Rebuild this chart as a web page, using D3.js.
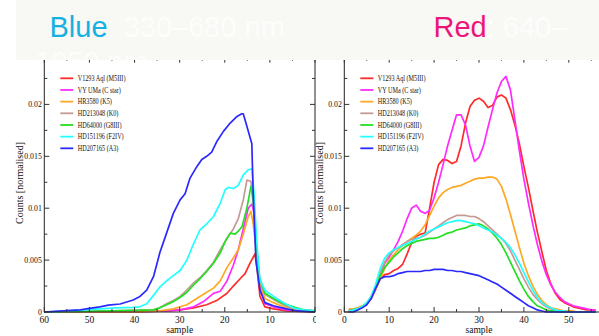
<!DOCTYPE html>
<html>
<head>
<meta charset="utf-8">
<script src="https://cdn.jsdelivr.net/npm/d3@7"></script>
<style>
  html, body { margin: 0; padding: 0; background: #ffffff; }
  svg { display: block; }
  .tick-label { font-family: "Liberation Serif", "Times New Roman", serif; fill: #111; }
</style>
</head>
<body>
<svg id="chart" width="599" height="336"></svg>
<script>
// ---- Data -------------------------------------------------------------
const starNames = [
  "V1293 Aql (M5III)", "VY UMa (C star)", "HR3580 (K5)", "HD213048 (K0)",
  "HD64000 (G8III)", "HD151196 (F2IV)", "HD207165 (A3)"
];
const starColors = ["#ff2a2a", "#ff2aff", "#ffa825", "#c49a94", "#22e022", "#22ffff", "#2a2aff"];

const xTicks = [0, 10, 20, 30, 40, 50, 60];
const yTicks = [0, 0.005, 0.01, 0.015, 0.02];
const yTickLabels = ["0", "0.005", "0.01", "0.015", "0.02"];

// Blue photometer, [sample, counts]
const blueM5III = [[60,0],[40,0],[32.9,0.0001],[29.9,0.0002],[26.9,0.0004],[24,0.0007],[21.8,0.0011],[19.5,0.0018],[18.1,0.0025],[16.6,0.0032],[15.5,0.0037],[14.4,0.0047],[13.3,0.0056],[12.8,0.0040],[12.2,0.0015],[11.1,0.0005],[9.2,0.0003],[6.3,0.0001],[0,0]];
const blueCstar = [[60,0],[40,0],[32.9,0.0001],[29.9,0.0002],[26.9,0.0005],[24.7,0.0010],[22.5,0.0018],[21,0.0020],[19.5,0.0030],[18.1,0.0045],[17,0.0060],[15.9,0.0080],[14.8,0.0100],[14,0.0104],[13.5,0.0095],[12.9,0.0060],[12.2,0.0025],[11.1,0.0008],[9.2,0.0005],[6.3,0.0002],[0,0]];
const blueK5 = [[60,0],[40,0],[34.4,0.0001],[31.4,0.0003],[28.4,0.0007],[25.5,0.0015],[24,0.0019],[22.5,0.0023],[21,0.0030],[19.5,0.0043],[18.1,0.0052],[17,0.0060],[15.9,0.0075],[14.8,0.0092],[14.2,0.0097],[13.7,0.0085],[12.9,0.0055],[12.2,0.0028],[11.1,0.0013],[9.2,0.0009],[7,0.0005],[4.8,0.0003],[0,0]];
const blueK0 = [[60,0],[45,0.0001],[35.8,0.0002],[34.4,0.0004],[32.9,0.0008],[31.4,0.0011],[29.9,0.0015],[28.4,0.0021],[26.9,0.0028],[25.5,0.0033],[24,0.0040],[22.5,0.0048],[21,0.0060],[19.5,0.0071],[18.1,0.0080],[17,0.0090],[15.9,0.0108],[15.1,0.0127],[14.2,0.0126],[13.5,0.0095],[12.9,0.0060],[12.2,0.0030],[11.1,0.0017],[9.2,0.0012],[7,0.0007],[4.8,0.0003],[0,0.0001]];
const blueG8III = [[60,0],[45,0.0001],[35.8,0.0002],[34.4,0.0004],[32.9,0.0007],[31.4,0.0010],[29.9,0.0014],[28.4,0.0019],[26.9,0.0026],[25.5,0.0032],[24,0.0039],[22.5,0.0047],[21,0.0057],[19.9,0.0068],[18.8,0.0076],[17.7,0.0075],[17,0.0078],[16.2,0.0082],[15.1,0.0100],[14.2,0.0121],[13.7,0.0110],[13.1,0.0070],[12.4,0.0035],[11.1,0.0018],[9.2,0.0013],[7,0.0008],[4.8,0.0005],[2.6,0.0002],[0,0.0001]];
const blueF2IV = [[60,0],[55,0.0001],[51.4,0.0002],[47.7,0.0003],[44,0.0004],[40.3,0.00045],[38.8,0.0005],[37.3,0.0008],[35.8,0.0016],[34.4,0.0024],[32.9,0.0030],[31.4,0.0035],[29.9,0.0040],[28.4,0.0050],[26.9,0.0066],[25.5,0.0079],[24,0.0085],[22.5,0.0092],[21,0.0105],[19.9,0.0118],[19.2,0.0120],[18.1,0.0119],[17,0.0122],[15.9,0.0132],[14.8,0.0137],[14,0.0138],[13.5,0.0114],[12.9,0.0066],[12.2,0.0031],[11.1,0.0021],[9.2,0.0015],[7,0.0009],[4.8,0.0004],[2.6,0.0002],[0,0.0001]];
const blueA3 = [[60,0],[55,0.00013],[52,0.0002],[50,0.00035],[47.7,0.0005],[45.8,0.00067],[43.2,0.00077],[40.3,0.00116],[38.8,0.0015],[37.3,0.0021],[35.8,0.0034],[34.4,0.0057],[32.9,0.0076],[31.4,0.0095],[29.9,0.0108],[28.8,0.0114],[27.7,0.0129],[26.2,0.0140],[25.1,0.0147],[24,0.0150],[22.9,0.0154],[21.8,0.0164],[20.3,0.0174],[18.8,0.0182],[17.4,0.0188],[16.2,0.0191],[15.9,0.0191],[15.1,0.0179],[14,0.0162],[13.7,0.0114],[13.1,0.0050],[12.2,0.0021],[11.1,0.0009],[9.2,0.0006],[6.3,0.0003],[4,0.0001],[0,0]];

// Red photometer, counts at samples 1..56
const redSamples = d3.range(1, 57);
const redM5III = [0.0002,0.0002,0.0003,0.0005,0.0008,0.0013,0.0022,0.0032,0.0036,0.0037,0.0040,0.0042,0.0046,0.0056,0.0067,0.0073,0.0075,0.0076,0.0100,0.0125,0.0142,0.0147,0.0146,0.0143,0.0145,0.0160,0.0182,0.0198,0.0204,0.0206,0.0203,0.0197,0.0199,0.0207,0.0209,0.0206,0.0195,0.0180,0.0162,0.0140,0.0120,0.0098,0.0077,0.0058,0.0040,0.0027,0.0018,0.0012,0.0009,0.0007,0.0005,0.0004,0.0003,0.0002,0.0002,0.0001];
const redCstar = [0.0001,0.0002,0.0003,0.0005,0.0008,0.0013,0.0022,0.0035,0.0047,0.0053,0.0060,0.0068,0.0078,0.0090,0.0100,0.0103,0.0097,0.0095,0.0098,0.0110,0.0125,0.0142,0.0160,0.0175,0.0190,0.0190,0.0180,0.0160,0.0145,0.0149,0.0160,0.0178,0.0195,0.0211,0.0222,0.0227,0.0214,0.0185,0.0155,0.0128,0.0105,0.0084,0.0065,0.0049,0.0036,0.0026,0.0019,0.0014,0.0010,0.0008,0.0006,0.0005,0.0004,0.0003,0.0002,0.0002];
const redK5 = [0.0003,0.0003,0.0004,0.0006,0.0008,0.0013,0.0022,0.0032,0.0042,0.0050,0.0055,0.0060,0.0064,0.0068,0.0071,0.0074,0.0078,0.0084,0.0093,0.0102,0.0110,0.0115,0.0118,0.0120,0.0121,0.0122,0.0124,0.0126,0.0128,0.0129,0.0129,0.0130,0.0130,0.0128,0.0121,0.0109,0.0094,0.0078,0.0062,0.0047,0.0035,0.0025,0.0017,0.0011,0.0007,0.0004,0.0003,0.0002,0.0001,0.0001,0.0001,0,0,0,0,0];
const redK0 = [0.0001,0.0002,0.0003,0.0005,0.0008,0.0014,0.0025,0.0038,0.0048,0.0055,0.0059,0.0062,0.0065,0.0068,0.0070,0.0071,0.0072,0.0074,0.0077,0.0080,0.0083,0.0086,0.0089,0.0091,0.0093,0.0093,0.0093,0.0092,0.0092,0.0090,0.0087,0.0083,0.0079,0.0075,0.0071,0.0066,0.0059,0.0050,0.0041,0.0032,0.0024,0.0017,0.0012,0.0008,0.0005,0.0003,0.0002,0.0001,0.0001,0,0,0,0,0,0,0];
const redG8III = [0.0001,0.0002,0.0003,0.0005,0.0009,0.0015,0.0025,0.0035,0.0043,0.0048,0.0053,0.0057,0.0061,0.0064,0.0066,0.0068,0.0069,0.0070,0.0071,0.0071,0.0072,0.0074,0.0076,0.0077,0.0079,0.0080,0.0081,0.0083,0.0084,0.0085,0.0083,0.0080,0.0076,0.0071,0.0065,0.0057,0.0048,0.0039,0.0030,0.0022,0.0015,0.0010,0.0006,0.0004,0.0002,0.0001,0.0001,0,0,0,0,0,0,0,0,0];
const redF2IV = [0.0001,0.0002,0.0003,0.0005,0.0009,0.0015,0.0027,0.0042,0.0052,0.0057,0.0060,0.0062,0.0064,0.0066,0.0068,0.0070,0.0072,0.0075,0.0078,0.0080,0.0082,0.0084,0.0086,0.0087,0.0088,0.0088,0.0087,0.0086,0.0085,0.0083,0.0081,0.0079,0.0077,0.0074,0.0071,0.0067,0.0062,0.0055,0.0047,0.0038,0.0029,0.0021,0.0014,0.0009,0.0006,0.0004,0.0002,0.0001,0.0001,0,0,0,0,0,0,0];
const redA3 = [0,0,0.0002,0.0004,0.0007,0.0013,0.0023,0.0032,0.0034,0.0034,0.0035,0.0037,0.0038,0.0039,0.0039,0.0039,0.0039,0.0040,0.0040,0.0041,0.0041,0.0041,0.0040,0.0040,0.0039,0.0039,0.0038,0.0037,0.0036,0.0035,0.0033,0.0031,0.0029,0.0027,0.0024,0.0021,0.0018,0.0015,0.0012,0.0009,0.0006,0.0004,0.0002,0.0001,0,0,0,0,0,0,0,0,0,0,0,0];

const blueSeries = [blueM5III, blueCstar, blueK5, blueK0, blueG8III, blueF2IV, blueA3];
const redSeries = [redM5III, redCstar, redK5, redK0, redG8III, redF2IV, redA3]
  .map(vals => vals.map((v, i) => [redSamples[i], v]));

// ---- Drawing ----------------------------------------------------------
const svg = d3.select("#chart");
const W = 599;
const yTop = 0.0245;

function drawPanel(g, xDomain, range, series) {
  const x = d3.scaleLinear().domain(xDomain).range(range);
  const y = d3.scaleLinear().domain([0, yTop]).range([312, 312 - yTop * 10380]);
  const [x0, x1] = range;
  const yT = y(yTop), yB = y(0);

  // curves
  const line = d3.line().x(d => x(d[0])).y(d => y(d[1]));
  series.forEach((s, i) => {
    g.append("path").datum(s)
      .attr("d", line)
      .attr("fill", "none")
      .attr("stroke", starColors[i])
      .attr("stroke-width", 1.7)
      .attr("stroke-linejoin", "round");
  });

  // frame
  g.append("rect").attr("x", x0).attr("y", yT).attr("width", x1 - x0).attr("height", yB - yT)
    .attr("fill", "none").attr("stroke", "#222").attr("stroke-width", 1);

  // inward ticks on all four sides
  const majorX = xTicks, minorX = d3.range(5, 60, 10);
  const majorY = yTicks, minorY = [0.0025, 0.0075, 0.0125, 0.0175, 0.0225];
  const tk = g.append("g").attr("stroke", "#333").attr("stroke-width", 1);
  majorX.forEach(v => {
    tk.append("line").attr("x1", x(v)).attr("x2", x(v)).attr("y1", yB).attr("y2", yB - 5);
    tk.append("line").attr("x1", x(v)).attr("x2", x(v)).attr("y1", yT).attr("y2", yT + 5);
  });
  minorX.forEach(v => {
    tk.append("line").attr("x1", x(v)).attr("x2", x(v)).attr("y1", yB).attr("y2", yB - 3);
    tk.append("line").attr("x1", x(v)).attr("x2", x(v)).attr("y1", yT).attr("y2", yT + 3);
  });
  majorY.forEach(v => {
    tk.append("line").attr("x1", x0).attr("x2", x0 + 5).attr("y1", y(v)).attr("y2", y(v));
    tk.append("line").attr("x1", x1).attr("x2", x1 - 5).attr("y1", y(v)).attr("y2", y(v));
  });
  minorY.forEach(v => {
    tk.append("line").attr("x1", x0).attr("x2", x0 + 3).attr("y1", y(v)).attr("y2", y(v));
    tk.append("line").attr("x1", x1).attr("x2", x1 - 3).attr("y1", y(v)).attr("y2", y(v));
  });

  // tick labels (only those that fall inside the page)
  xTicks.filter(v => x(v) < W - 2).forEach(v => {
    g.append("text").attr("class", "tick-label")
      .attr("x", x(v)).attr("y", 322.5)
      .attr("text-anchor", "middle").attr("font-size", 9.5)
      .text(v);
  });
  yTicks.forEach((v, i) => {
    g.append("text").attr("class", "tick-label")
      .attr("x", x0 - 2.5).attr("y", y(v) + 2.8)
      .attr("text-anchor", "end").attr("font-size", 7.8)
      .text(yTickLabels[i]);
  });

  // axis titles
  g.append("text").attr("class", "tick-label")
    .attr("x", (x0 + x1) / 2).attr("y", 333)
    .attr("text-anchor", "middle").attr("font-size", 9.5)
    .text("sample");
  g.append("text").attr("class", "tick-label")
    .attr("transform", `translate(${x0 - 21.5},183) rotate(-90)`)
    .attr("text-anchor", "middle").attr("font-size", 10)
    .text("Counts [normalised]");

  // legend
  starNames.forEach((name, i) => {
    const ly = 78.3 + i * 11.67;
    g.append("line").attr("x1", x0 + 16).attr("x2", x0 + 29)
      .attr("y1", ly).attr("y2", ly)
      .attr("stroke", starColors[i]).attr("stroke-width", 1.8);
    g.append("text").attr("class", "tick-label")
      .attr("transform", `translate(${x0 + 33.4},${ly + 2.6}) scale(1,1.25)`)
      .attr("font-size", 6.2).attr("fill", "#222")
      .text(name);
  });
}

// left panel: blue photometer
const left = svg.append("g");
drawPanel(left, [60, 0], [44.3, 315], blueSeries);

// right panel: red photometer, drawn on its own white backdrop
const right = svg.append("g");
right.append("rect").attr("x", 316).attr("y", 58).attr("width", 283).attr("height", 278).attr("fill", "#ffffff");
drawPanel(right, [0, 60], [344.3, 613.7], redSeries);

// heading strip across the top
const defs = svg.append("defs");
defs.append("clipPath").attr("id", "strip-clip")
  .append("rect").attr("x", 16).attr("y", 0).attr("width", 583).attr("height", 60);
svg.append("rect").attr("x", 16).attr("y", 0).attr("width", 583).attr("height", 60).attr("fill", "#f8f8f4");
const head = svg.append("g").attr("clip-path", "url(#strip-clip)")
  .attr("font-family", "'Liberation Sans', Arial, sans-serif").attr("font-size", 29);
const line1 = head.append("text").attr("x", 49.5).attr("y", 36.7);
line1.append("tspan").attr("fill", "#16b1e2").text("Blue");
line1.append("tspan").attr("fill", "#fdfdfc").text(": 330–680 nm");
const line1b = head.append("text").attr("x", 433.5).attr("y", 36.7);
line1b.append("tspan").attr("fill", "#ec157a").text("Red");
line1b.append("tspan").attr("fill", "#fdfdfc").text(": 640–");
head.append("text").attr("x", 35).attr("y", 71.5).attr("fill", "#fdfdfc").text("1050 nm");
</script>
</body>
</html>
